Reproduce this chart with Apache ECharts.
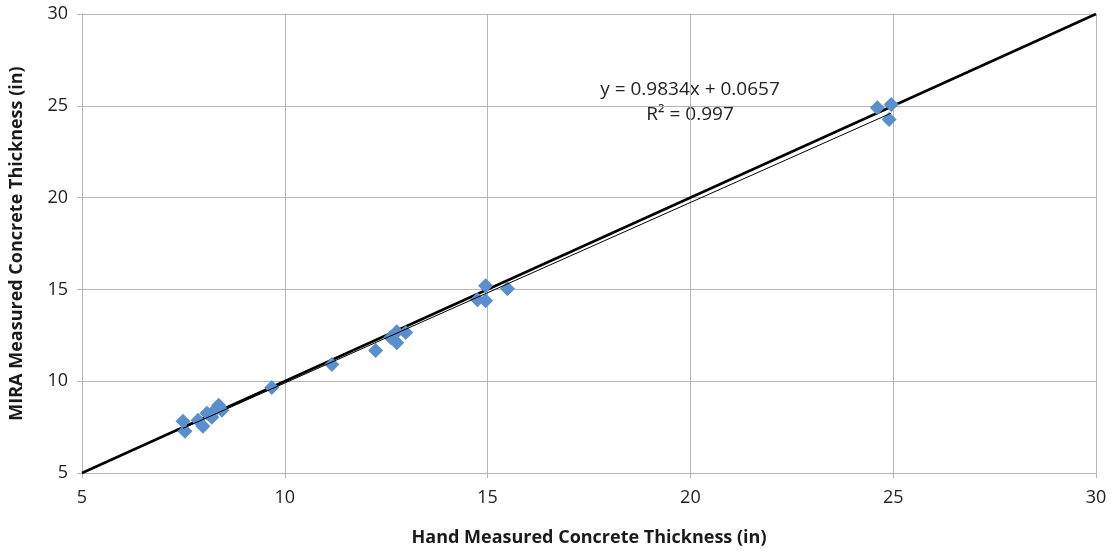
<!DOCTYPE html>
<html>
<head>
<meta charset="utf-8">
<script src="https://cdn.jsdelivr.net/npm/echarts@6/dist/echarts.min.js"></script>
<style>
  html, body { margin: 0; padding: 0; background: #fff; }
  #chart { width: 1115px; height: 552px; }
</style>
</head>
<body>
<div id="chart"></div>
<script>
// hand measured (x) vs MIRA measured (y), inches
var handThickness = [7.49, 7.54, 7.86, 7.98, 8.08, 8.20, 8.30, 8.37, 8.45, 9.68, 11.16, 12.24, 12.61, 12.76, 12.76, 12.98, 14.75, 14.95, 14.95, 15.49, 24.61, 24.95, 24.90];
var miraThickness = [7.82, 7.28, 7.87, 7.55, 8.25, 8.04, 8.47, 8.69, 8.42, 9.66, 10.91, 11.67, 12.38, 12.10, 12.70, 12.65, 14.44, 14.38, 15.20, 15.03, 24.90, 25.07, 24.25];
var axisTicks = [5, 10, 15, 20, 25, 30];
var trendSlope = 0.9834;
var trendIntercept = 0.0657;
var trendR2 = 0.997;

var points = [];
for (var i = 0; i < handThickness.length; i++) {
    points.push([handThickness[i], miraThickness[i]]);
}
var xMin = Math.min.apply(null, handThickness);
var xMax = Math.max.apply(null, handThickness);
var trendLine = [
    [xMin, trendSlope * xMin + trendIntercept],
    [xMax, trendSlope * xMax + trendIntercept]
];
var oneToOne = [[axisTicks[0], axisTicks[0]], [axisTicks[axisTicks.length - 1], axisTicks[axisTicks.length - 1]]];

var font = '"Open Sans", "Liberation Sans", sans-serif';
var gridColor = '#b5b5b5';

function axisCommon(name, gap, labelMargin) {
    return {
        type: 'value',
        min: 5,
        max: 30,
        interval: 5,
        name: name,
        nameLocation: 'middle',
        nameGap: gap,
        nameTextStyle: { fontFamily: font, fontSize: 18, fontWeight: 'bold', color: '#1a1a1a' },
        axisLine: { show: true, lineStyle: { color: gridColor, width: 1 } },
        axisTick: { show: true, inside: false, length: 5, lineStyle: { color: gridColor } },
        axisLabel: { fontFamily: font, fontSize: 18, color: '#222', margin: labelMargin },
        splitLine: { show: true, lineStyle: { color: gridColor, width: 1 } }
    };
}

var chart = echarts.init(document.getElementById('chart'));
var option = {
    backgroundColor: '#fff',
    animation: false,
    grid: { left: 81, right: 19, top: 14, bottom: 77, containLabel: false },
    xAxis: axisCommon('Hand Measured Concrete Thickness (in)', 56, 16),
    yAxis: axisCommon('MIRA Measured Concrete Thickness (in)', 56, 14),
    series: [
        {
            type: 'line',
            data: oneToOne,
            showSymbol: false,
            lineStyle: { color: '#000', width: 2.5 },
            z: 3
        },
        {
            type: 'scatter',
            data: points,
            symbol: 'diamond',
            symbolSize: [15, 15],
            itemStyle: { color: '#5b8fcb', opacity: 1 },
            z: 4
        },
        {
            type: 'line',
            data: trendLine,
            showSymbol: false,
            lineStyle: { color: '#000', width: 1 },
            z: 5
        }
    ],
    graphic: [
        {
            type: 'text',
            x: 690,
            y: 90,
            style: { text: 'y = ' + trendSlope + 'x + ' + trendIntercept, font: '19px ' + font, fill: '#222', textAlign: 'center', textVerticalAlign: 'middle' }
        },
        {
            type: 'text',
            x: 690,
            y: 115,
            style: { text: 'R\u00b2 = ' + trendR2, font: '19px ' + font, fill: '#222', textAlign: 'center', textVerticalAlign: 'middle' }
        }
    ]
};
chart.setOption(option);
</script>
</body>
</html>
